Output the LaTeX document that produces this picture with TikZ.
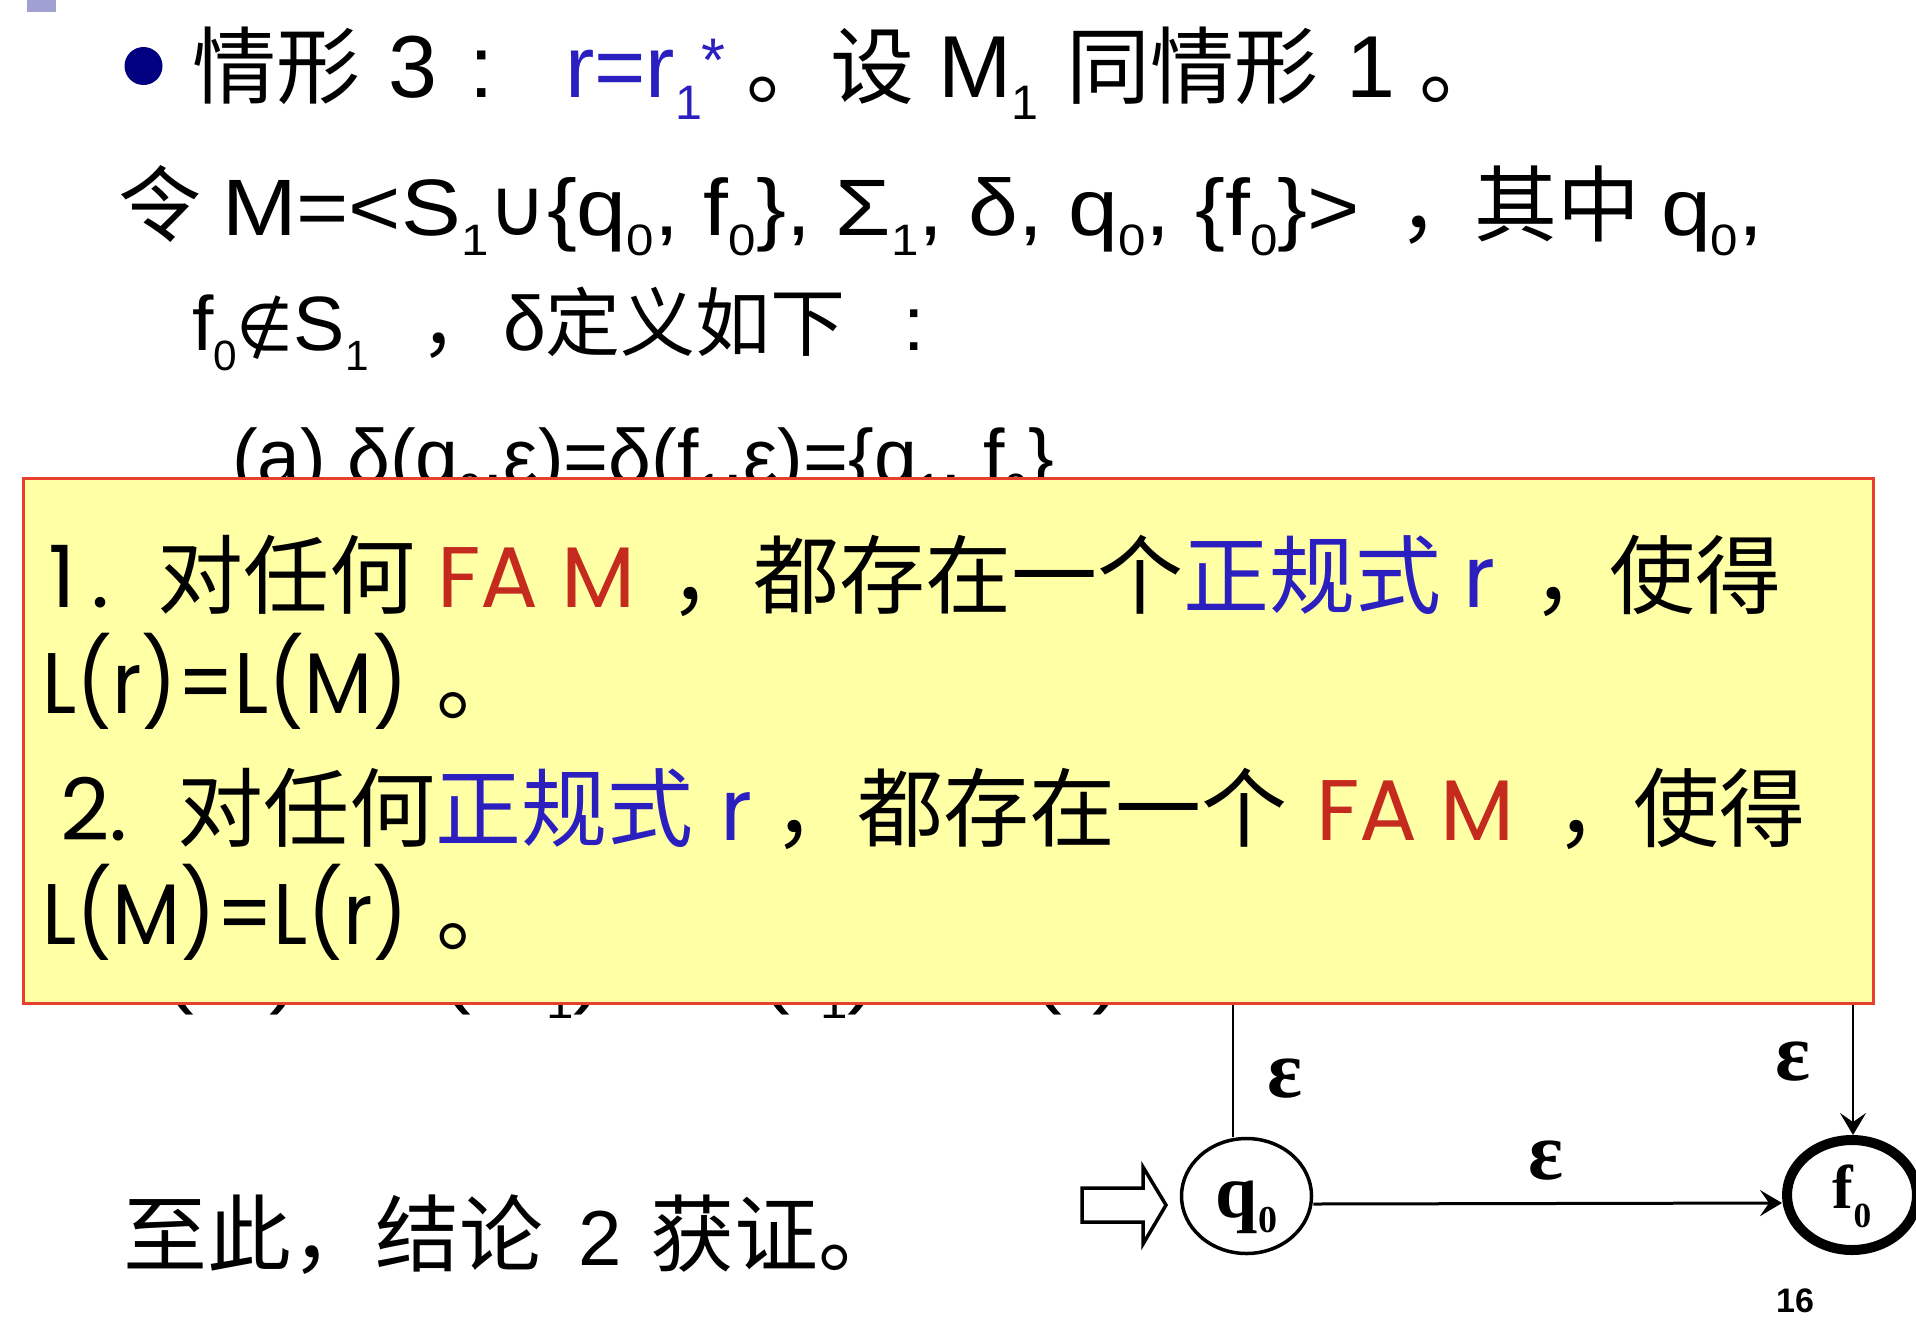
\documentclass[tikz,border=0pt]{standalone}
\usepackage{fontspec}
\usepackage{graphicx}
\usetikzlibrary{arrows.meta,shapes.geometric}
\setmainfont{Liberation Sans}
\newfontfamily\wsans[FakeStretch=1.12]{Liberation Sans}
\newfontfamily\cjk{Noto Sans CJK SC}
\newfontfamily\pop{Poppins}
\newfontfamily\tms{Liberation Serif}
\newfontfamily\dvs{DejaVu Sans}
\newcommand\fsz[1]{\fontsize{#1}{#1}\selectfont}
\newcommand\zh[2]{{\fontsize{#1}{#1}\selectfont\cjk #2}}
\newcommand\sbx[1]{\raisebox{-0.26em}{\scalebox{0.55}{#1}}}
\definecolor{fared}{HTML}{C42A1E}
\definecolor{rblue}{HTML}{2B1FBF}
\definecolor{boxfill}{HTML}{FFFFA5}
\definecolor{boxline}{HTML}{E8402F}
\definecolor{bulletnavy}{HTML}{000080}
\definecolor{sqpurple}{HTML}{A0A0D2}
\begin{document}
\begin{tikzpicture}[x=1pt,y=-1pt,
  txt/.style={anchor=base west, inner sep=0pt, outer sep=0pt},
  ltx/.style={txt, font={\fsz{77}}},
  wtx/.style={txt, font={\wsans\fsz{80}}},
  btx/.style={txt, font={\pop\fsz{86}}},
  eps/.style={inner sep=0pt, font={\tms\bfseries\fsz{82}}},
  lab/.style={inner sep=0pt, anchor=base},
  state/.style={ellipse, draw, inner sep=0pt},
  edge/.style={line width=3pt},
  tip/.style={-{Stealth[length=22pt,width=26pt,inset=9pt]}}
]
\useasboundingbox (0,0) rectangle (1916,1328);
% corner mark
\fill[sqpurple] (27,0) rectangle (56,12);
% line 1
\fill[bulletnavy] (143.5,66) circle (19);
\node[txt, font={\fsz{88}}] (l1a) at (192,97) {\zh{84}{情形}\hspace{28pt}3};
\node[txt, font={\fsz{88}}] (l1b) at (469,97) {:};
\node[txt, font={\fsz{88}}, text=rblue] (l1c) at (565,97) {r=r\sbx{1}\raisebox{16pt}{\scalebox{0.7}{*}}};
\node[txt, font={\fsz{88}}] (l1d) at (746,97) {\zh{84}{。设}\hspace{24pt}M\sbx{1}\hspace{28pt}\zh{84}{同情形}\hspace{28pt}1\hspace{24pt}\zh{84}{。}};
% line 2
\node[wtx] (l2a) at (118,235) {\zh{83}{令}\hspace{21pt}M=<S\sbx{1}{\dvs ∪}\{q\sbx{0}, f\sbx{0}\}, Σ\sbx{1}, δ, q\sbx{0}, \{f\sbx{0}\}>};
\node[wtx] (l2b) at (1398,235) {\zh{83}{，}};
\node[wtx] (l2c) at (1474,235) {\zh{83}{其中}\hspace{21pt}q\sbx{0},};
% line 3
\node[ltx] (l3a) at (192,350) {f\sbx{0}\scalebox{0.85}{\dvs ∉}S\sbx{1}};
\node[ltx] (l3b) at (420,350) {\zh{75}{，}};
\node[ltx] (l3c) at (503,350) {δ\zh{75}{定义如下}\hspace{58pt}:};
% line 4 (partly hidden)
\node[ltx] (l4) at (232,483) {(a) δ(q\sbx{0},ε)=δ(f\sbx{1},ε)=\{q\sbx{1}, f\sbx{0}\}};
% hidden line, only its lowest strokes show below the box
\node[wtx] (l5a) at (115,998) {L(M) =};
\node[wtx] (l5b) at (392,998) {L(M\sbx{1})*=};
\node[wtx] (l5c) at (711,998) {L(r\sbx{1})*=};
\node[wtx] (l5d) at (983,998) {L(r)};
% connectors coming from behind the box
\coordinate (qt) at (1233,990);
\coordinate (ft) at (1853,990);
% states
\node[state, line width=3.5pt, minimum width=130pt, minimum height=115pt] (q0) at (1246.5,1196) {};
\node[state, line width=10pt, minimum width=130pt, minimum height=110pt] (f0) at (1852,1195) {};
\node[lab, font={\tms\bfseries\fsz{76}}] (q0l) at ([yshift=-21pt]q0.center) {q\raisebox{-0.21em}{\scalebox{0.5}{0}}};
\node[lab, font={\tms\bfseries\fsz{62}}] (f0l) at ([yshift=-13pt]f0.center) {f\raisebox{-0.32em}{\scalebox{0.57}{0}}};
\draw[line width=2.5pt] (qt) -- (qt |- q0.north);
\draw[line width=2.5pt, tip] (ft) -- (ft |- f0.north);
\draw[edge, tip] ([yshift=-8pt]q0.east) -- ([yshift=-8pt]f0.west);
\node[eps] (e1) at (1285,1079) {ε};
\node[eps] (e2) at (1793,1062) {ε};
\node[eps] (e3) at (1546,1161) {ε};
% start arrow
\draw[line width=3.5pt, line join=miter] (1082,1188) -- (1143,1188) -- (1143,1167) -- (1166,1205) -- (1143,1244) -- (1143,1222) -- (1082,1222) -- cycle;
% yellow box
\node[draw=boxline, fill=boxfill, line width=2.5pt, minimum width=1850pt, minimum height=525pt, inner sep=0pt, anchor=north west] (box) at (22,477) {};
% box text
\node[btx] (b1a) at (48,607) {1\hspace{16pt}.};
\node[btx] (b1b) at (157,607) {\zh{86}{对任何}};
\node[btx, text=fared] (b1c) at (437,607) {FA M};
\node[btx] (b1d) at (669,607) {\zh{86}{，}};
\node[btx] (b1e) at (753,607) {\zh{86}{都存在一个}\textcolor{rblue}{\zh{86}{正规式} r}};
\node[btx] (b1f) at (1532,607) {\zh{86}{，}};
\node[btx] (b1g) at (1609,607) {\zh{86}{使得}};
\node[btx] (b2a) at (42,713) {\scalebox{0.92}[1]{L(r)=L(M)}};
\node[btx] (b2b) at (436,713) {\zh{86}{。}};
\node[btx] (b3a) at (60,840) {2.};
\node[btx] (b3b) at (177,840) {\zh{86}{对任何}\textcolor{rblue}{\zh{86}{正规式}}};
\node[btx, text=rblue] (b3c) at (720,840) {r};
\node[btx] (b3d) at (773,840) {\zh{86}{，}};
\node[btx] (b3e) at (857,840) {\zh{86}{都存在一个}};
\node[btx, text=fared] (b3f) at (1316,840) {FA M};
\node[btx] (b3g) at (1555,840) {\zh{86}{，}};
\node[btx] (b3h) at (1633,840) {\zh{86}{使得}};
\node[btx] (b4a) at (42,944) {\scalebox{0.92}[1]{L(M)=L(r)}};
\node[btx] (b4b) at (436,944) {\zh{86}{。}};
% conclusion
\node[txt] (c1) at (123,1265) {\zh{84}{至此，结论}};
\node[txt, font={\fsz{78}}] (c2) at (578,1265) {2};
\node[txt] (c3) at (650,1265) {\zh{84}{获证。}};
% page number
\node[inner sep=0pt, font={\bfseries\fsz{34}}] (pg) at (1795,1301) {16};
\end{tikzpicture}
\end{document}
